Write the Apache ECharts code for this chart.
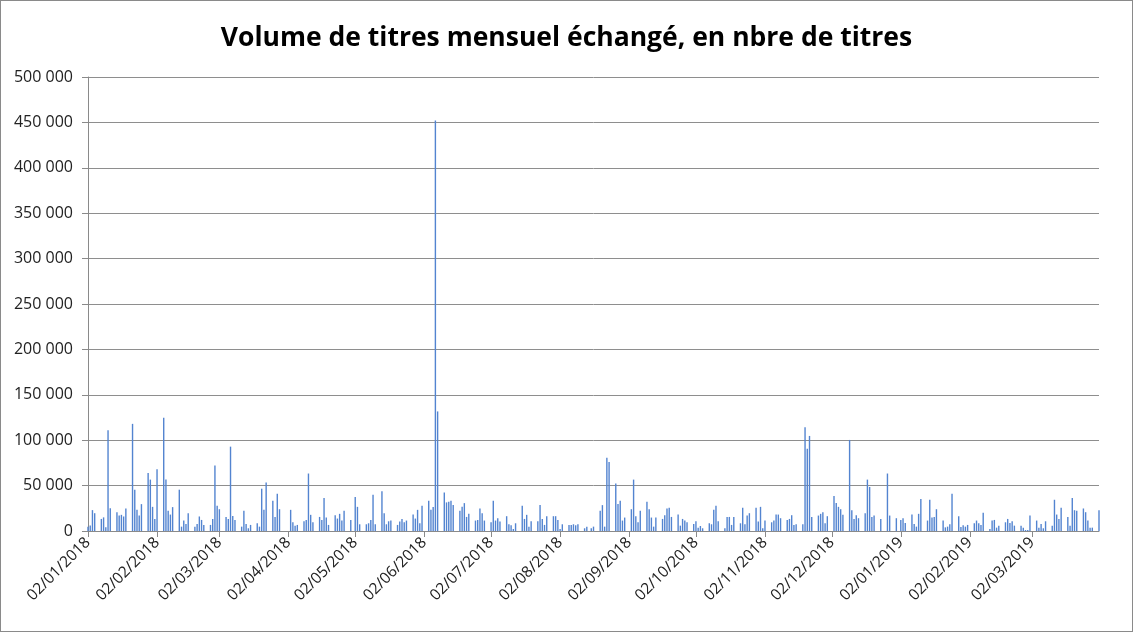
<!DOCTYPE html>
<html>

<head>
    <meta charset="utf-8" />
    <style type="text/css">
        html, body {
            margin: 0;
            padding: 0;
            background: #fff;
        }

        #main {
            width: 1133px;
            height: 632px;
            box-sizing: border-box;
            border: 1px solid #8a8a8a;
        }
    </style>
    <script src="https://cdn.jsdelivr.net/npm/echarts@6/dist/echarts.min.js"></script>
</head>

<body>
    <div id="main"></div>
    <script type="text/javascript">
        // volumes journaliers : [jour du mois, nombre de titres]
        var jan2018 = [[2, 4800], [3, 6000], [4, 23000], [5, 19600], [8, 13300], [9, 15000], [10, 4000], [11, 111000], [12, 25000], [15, 20700], [16, 17000], [17, 17800], [18, 16000], [19, 24800], [22, 118000], [23, 45500], [24, 23300], [25, 17000], [26, 29600], [29, 64000], [30, 56600], [31, 26600]];
        var feb2018 = [[1, 13300], [2, 68000], [5, 124700], [6, 56600], [7, 22200], [8, 18100], [9, 26300], [12, 45500], [13, 4800], [14, 11500], [15, 7800], [16, 19600], [19, 4800], [20, 7800], [21, 16000], [22, 12200], [23, 6700], [26, 6700], [27, 13300], [28, 72000]];
        var mar2018 = [[1, 27700], [2, 24000], [5, 15500], [6, 13300], [7, 92900], [8, 16600], [9, 12200], [12, 4800], [13, 22200], [14, 7800], [15, 3000], [16, 6700], [19, 8500], [20, 4800], [21, 46600], [22, 23300], [23, 53300], [26, 33300], [27, 15500], [28, 41100], [29, 24000]];
        var apr2018 = [[3, 23300], [4, 9600], [5, 5900], [6, 6700], [9, 10700], [10, 12200], [11, 63300], [12, 17800], [13, 9600], [16, 15500], [17, 12200], [18, 36300], [19, 14800], [20, 6700], [23, 17400], [24, 13700], [25, 18900], [26, 11500], [27, 22200], [30, 12200]];
        var may2018 = [[2, 37400], [3, 26600], [4, 7400], [7, 7400], [8, 8500], [9, 12200], [10, 40000], [11, 7400], [14, 43700], [15, 19600], [16, 7400], [17, 10700], [18, 11500], [21, 6700], [22, 10400], [23, 13300], [24, 9600], [25, 11500], [28, 18100], [29, 13700], [30, 23300], [31, 8500]];
        var jun2018 = [[1, 27700], [4, 33300], [5, 23300], [6, 26300], [7, 452000], [8, 131700], [11, 42500], [12, 31500], [13, 32200], [14, 33300], [15, 28500], [18, 22200], [19, 26600], [20, 30700], [21, 15500], [22, 18900], [25, 11500], [26, 12200], [27, 24800], [28, 19600], [29, 11500]];
        var jul2018 = [[2, 9600], [3, 33300], [4, 11500], [5, 14100], [6, 10400], [9, 16300], [10, 7400], [11, 6300], [12, 2200], [13, 8500], [16, 27700], [17, 13300], [18, 17800], [19, 4800], [20, 10700], [23, 10700], [24, 28500], [25, 13300], [26, 6700], [27, 16300], [30, 16300], [31, 16300]];
        var aug2018 = [[1, 12200], [2, 2200], [3, 7400], [6, 6700], [7, 6700], [8, 7400], [9, 6300], [10, 7400], [13, 3000], [14, 4800], [16, 3000], [17, 4800], [20, 22200], [21, 28500], [22, 4800], [23, 80700], [24, 75900], [27, 52200], [28, 29600], [29, 33300], [30, 11500], [31, 14800]];
        var sep2018 = [[3, 24000], [4, 56600], [5, 16300], [6, 9600], [7, 22200], [10, 32200], [11, 24000], [12, 14800], [13, 4800], [14, 14800], [17, 13300], [18, 17400], [19, 24800], [20, 25500], [21, 15500], [24, 18100], [25, 5900], [26, 13300], [27, 11500], [28, 9600]];
        var oct2018 = [[1, 7800], [2, 10700], [3, 3700], [4, 5500], [5, 3000], [8, 8500], [9, 7400], [10, 23300], [11, 27700], [12, 10700], [15, 3000], [16, 15500], [17, 15500], [18, 6700], [19, 15500], [22, 8500], [23, 25500], [24, 7400], [25, 17000], [26, 19600], [29, 25500], [30, 10400], [31, 26600]];
        var nov2018 = [[1, 3000], [2, 11500], [5, 9600], [6, 11500], [7, 18100], [8, 18100], [9, 14100], [12, 12200], [13, 13300], [14, 17400], [15, 6700], [16, 7400], [19, 7400], [20, 114300], [21, 90600], [22, 104700], [23, 15500], [26, 17000], [27, 18900], [28, 20700], [29, 8500], [30, 16300]];
        var dec2018 = [[3, 38500], [4, 30700], [5, 26600], [6, 24000], [7, 17800], [10, 100300], [11, 22900], [12, 13300], [13, 17400], [14, 14100], [17, 19600], [18, 56600], [19, 48500], [20, 15500], [21, 17000], [24, 13300], [27, 63300], [28, 17000], [31, 14100]];
        var jan2019 = [[2, 12200], [3, 14100], [4, 8900], [7, 18100], [8, 7800], [9, 4800], [10, 18900], [11, 35200], [14, 11500], [15, 34400], [16, 14800], [17, 15500], [18, 24000], [21, 11500], [22, 4000], [23, 4800], [24, 7400], [25, 41100], [28, 16300], [29, 4400], [30, 6300], [31, 4800]];
        var feb2019 = [[1, 6700], [4, 8500], [5, 11500], [6, 8500], [7, 6700], [8, 20000], [11, 2200], [12, 11500], [13, 12200], [14, 3700], [15, 5900], [18, 9600], [19, 13300], [20, 8900], [21, 10700], [22, 5900], [25, 5900], [26, 3700], [27, 1100], [28, 1100]];
        var mar2019 = [[1, 17000], [4, 11500], [5, 3700], [6, 7800], [7, 3000], [8, 10700], [11, 5900], [12, 34400], [13, 18100], [14, 13300], [15, 25500], [18, 15500], [19, 5900], [20, 36300], [21, 22900], [22, 22200], [25, 24800], [26, 20700], [27, 11500], [28, 3700], [29, 3700]];
        var apr2019 = [[1, 22900]];

        var months = [
            ["01/2018", jan2018], ["02/2018", feb2018], ["03/2018", mar2018], ["04/2018", apr2018],
            ["05/2018", may2018], ["06/2018", jun2018], ["07/2018", jul2018], ["08/2018", aug2018],
            ["09/2018", sep2018], ["10/2018", oct2018], ["11/2018", nov2018], ["12/2018", dec2018],
            ["01/2019", jan2019], ["02/2019", feb2019], ["03/2019", mar2019], ["04/2019", apr2019]
        ];

        var startDay = new Date(2018, 0, 2);
        var endDay = new Date(2019, 3, 1);

        function fmt(d) {
            return String(d.getDate()).padStart(2, "0") + "/" +
                String(d.getMonth() + 1).padStart(2, "0") + "/" + d.getFullYear();
        }

        // axe des dates : un jour calendaire par catégorie
        var categories = [];
        for (var d = new Date(startDay); d <= endDay; d.setDate(d.getDate() + 1)) {
            categories.push(fmt(d));
        }

        var lookup = {};
        months.forEach(function (m) {
            m[1].forEach(function (p) {
                lookup[String(p[0]).padStart(2, "0") + "/" + m[0]] = p[1];
            });
        });
        var values = categories.map(function (c) {
            return lookup[c] !== undefined ? lookup[c] : null;
        });

        function isMonthTick(index, value) {
            return categories[index].slice(0, 2) === "02";
        }

        var myChart = echarts.init(document.getElementById("main"));
        var option = {
            animation: false,
            title: {
                text: "Volume de titres mensuel échangé, en nbre de titres",
                left: "center",
                top: 19,
                textStyle: {
                    fontFamily: "Open Sans",
                    fontSize: 26.5,
                    fontWeight: "bold",
                    color: "#000"
                }
            },
            grid: {
                left: 87,
                right: 33,
                top: 76,
                bottom: 100
            },
            xAxis: {
                type: "category",
                data: categories,
                boundaryGap: false,
                axisLine: { lineStyle: { color: "#8a8a8a", width: 1 } },
                axisTick: { interval: isMonthTick, length: 6, lineStyle: { color: "#8a8a8a" } },
                axisLabel: {
                    interval: isMonthTick,
                    rotate: 45,
                    margin: 9,
                    fontFamily: "Open Sans",
                    fontSize: 15.5,
                    color: "#222"
                },
                splitLine: { show: false }
            },
            yAxis: {
                type: "value",
                min: 0,
                max: 500000,
                interval: 50000,
                axisLine: { show: true, lineStyle: { color: "#8a8a8a" } },
                axisTick: { show: true, length: 6, lineStyle: { color: "#8a8a8a" } },
                axisLabel: {
                    margin: 15,
                    fontFamily: "Open Sans",
                    fontSize: 16,
                    color: "#222",
                    formatter: function (v) {
                        return String(v).replace(/\B(?=(\d{3})+(?!\d))/g, " ");
                    }
                },
                splitLine: { lineStyle: { color: "#8e8e8e", width: 1 } }
            },
            series: [
                {
                    name: "Volume",
                    type: "bar",
                    data: values,
                    barWidth: 1.4,
                    itemStyle: { color: "#5384d0" }
                }
            ]
        };
        myChart.setOption(option);
    </script>
</body>

</html>
